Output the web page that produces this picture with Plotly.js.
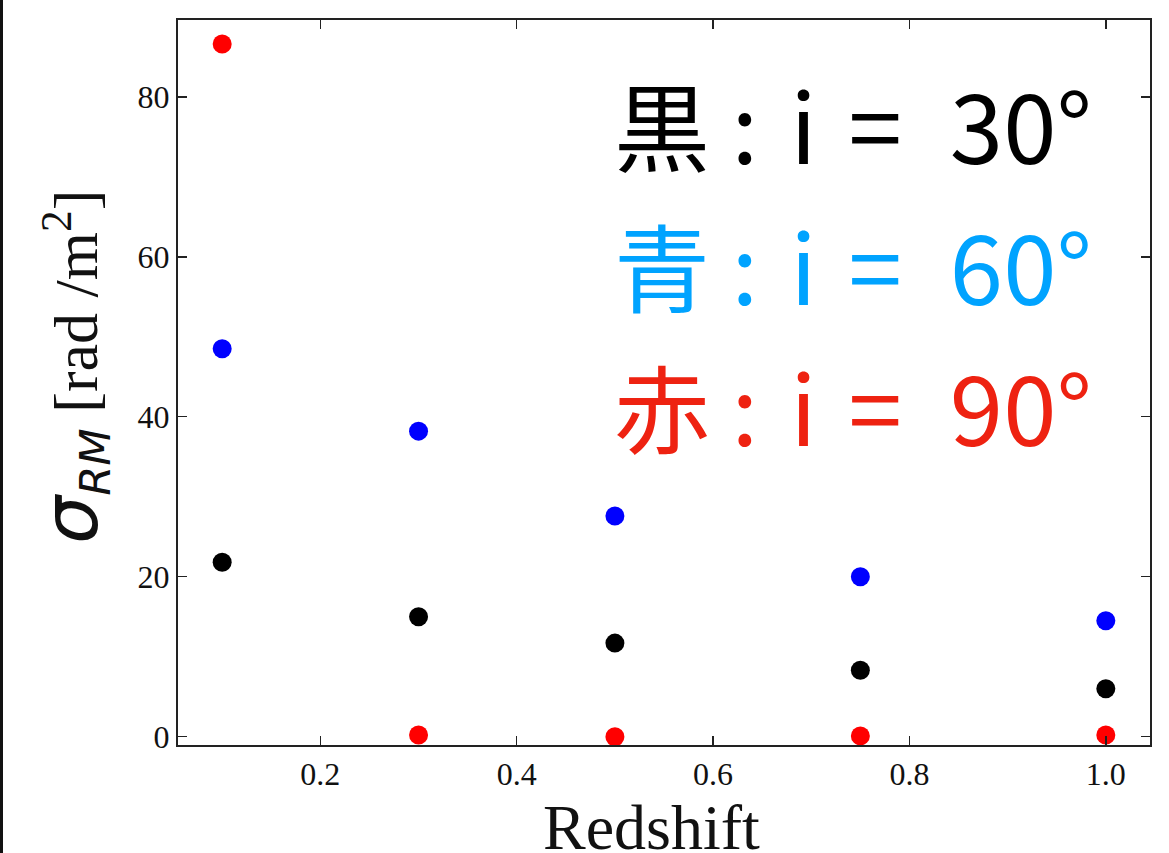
<!DOCTYPE html>
<html>
<head>
<meta charset="utf-8">
<script src="https://cdn.plot.ly/plotly-3.0.1.min.js"></script>
<style>
  html, body { margin: 0; padding: 0; background: #fff; }
  #wrap { position: relative; width: 1169px; height: 853px; }
  #edge { position: absolute; left: 0; top: 0; width: 3px; height: 853px; background: #111; }
</style>
</head>
<body>
<div id="wrap"><div id="chart" style="width:1169px;height:853px;"></div><div id="edge"></div></div>
<script>
// Redshift values
const redshift = [0.1, 0.3, 0.5, 0.75, 1.0];
// sigma_RM [rad/m^2] for each inclination
const sigma_i30 = [21.8, 15.0, 11.7, 8.3, 6.0];   // black
const sigma_i60 = [48.5, 38.2, 27.6, 20.0, 14.5]; // blue
const sigma_i90 = [86.6, 0.2, 0.0, 0.1, 0.2];     // red

const xTicks = [0.2, 0.4, 0.6, 0.8, 1.0];
const xTickLabels = ['0.2', '0.4', '0.6', '0.8', '1.0'];
const yTicks = [0, 20, 40, 60, 80];
const yTickLabels = ['0', '20', '40', '60', '80'];

const legendLines = [
  {text: '黒 :\u2004i\u2004=\u200230°', color: '#000000'},
  {text: '青 :\u2004i\u2004=\u200260°', color: '#00A3FF'},
  {text: '赤 :\u2004i\u2004=\u200290°', color: '#EE2211'}
];

const serif = 'Liberation Serif, Times New Roman, serif';

function series(y, color) {
  return {
    x: redshift, y: y, type: 'scatter', mode: 'markers',
    marker: {color: color, size: 19, line: {width: 0}},
    hoverinfo: 'x+y', showlegend: false
  };
}

const data = [
  series(sigma_i30, '#000000'),
  series(sigma_i60, '#0000FF'),
  series(sigma_i90, '#FF0000')
];

const axisCommon = {
  showgrid: false, zeroline: false,
  showline: true, linecolor: '#222', linewidth: 2, mirror: 'ticks',
  ticks: 'inside', ticklen: 9, tickwidth: 1.5, tickcolor: '#222',
  tickfont: {family: serif, size: 32, color: '#111'}
};

const layout = {
  width: 1169, height: 853,
  margin: {l: 178, r: 19, t: 20, b: 108},
  paper_bgcolor: '#fff', plot_bgcolor: '#fff',
  xaxis: Object.assign({}, axisCommon, {
    range: [0.055, 1.045],
    tickmode: 'array', tickvals: xTicks, ticktext: xTickLabels
  }),
  yaxis: Object.assign({}, axisCommon, {
    range: [-1.04, 89.6],
    tickmode: 'array', tickvals: yTicks, ticktext: yTickLabels
  }),
  annotations: [
    {
      xref: 'paper', yref: 'paper', x: (651 - 178) / 972, y: (745 - 827) / 725,
      xanchor: 'center', yanchor: 'middle', showarrow: false,
      text: 'Redshift',
      font: {family: serif, size: 64, color: '#111'}
    },
    {
      xref: 'paper', yref: 'paper', x: -0.108, y: (745 - 367) / 725,
      xanchor: 'center', yanchor: 'middle', textangle: -90, showarrow: false,
      text: '<span style="font-family:DejaVu Sans;font-size:76px"><i>σ</i></span><sub><span style="font-family:DejaVu Sans"><i>RM</i></span></sub> [rad /m<sup>2</sup>]',
      font: {family: serif, size: 62, color: '#111'}
    }
  ].concat(legendLines.map((l, k) => ({
    xref: 'paper', yref: 'paper',
    x: (612 - 178) / 972, y: (745 - (123 + 140.5 * k)) / 725,
    xanchor: 'left', yanchor: 'middle', showarrow: false,
    text: l.text,
    font: {family: 'Noto Sans CJK JP', size: 96, color: l.color}
  })))
};

Plotly.newPlot('chart', data, layout, {staticPlot: true, displayModeBar: false});
</script>
</body>
</html>
